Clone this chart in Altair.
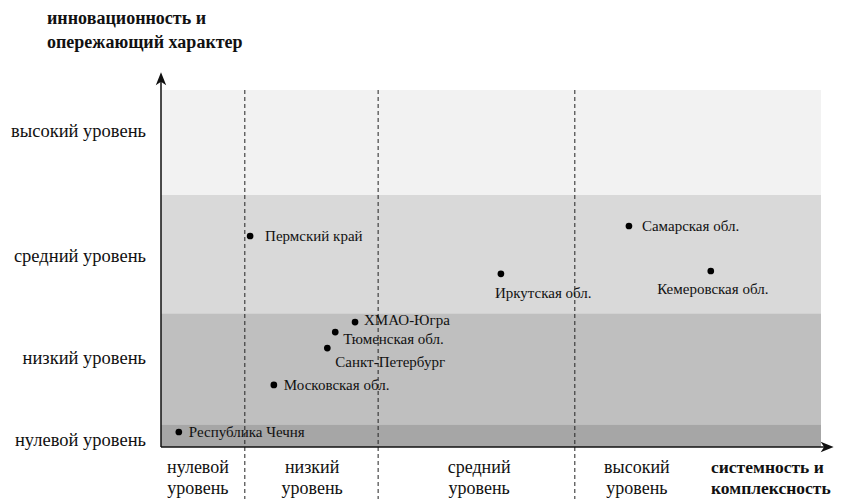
import altair as alt
import pandas as pd

# Regions and their (estimated) positions on the two qualitative axes (0-100 scale)
regions = ["Пермский край", "Самарская обл.", "Иркутская обл.", "Кемеровская обл.",
           "ХМАО-Югра", "Тюменская обл.", "Санкт-Петербург", "Московская обл.",
           "Республика Чечня"]
sys_x = [13.5, 70.9, 51.5, 83.3, 29.4, 26.4, 25.2, 17.1, 2.7]
innov_y = [59.1, 61.9, 48.5, 49.3, 35.0, 32.2, 27.7, 17.4, 4.2]

# Levels
y_levels = ["нулевой уровень", "низкий уровень", "средний уровень", "высокий уровень"]
y_bounds = [0, 6.4, 37.5, 70.6, 100]
y_label_pos = [2.0, 24.9, 53.5, 88.5]
band_colors = ["#a6a6a6", "#bfbfbf", "#d9d9d9", "#f2f2f2"]

x_levels = ["нулевой\nуровень", "низкий\nуровень", "средний\nуровень", "высокий\nуровень"]
x_bounds = [0, 12.7, 32.9, 62.7, 100]
x_label_pos = [5.6, 22.9, 48.2, 72.1]

y_title = "инновационность и\nопережающий характер"
x_title = "системность и\nкомплексность"

FONT = "'Liberation Serif', 'Times New Roman', 'DejaVu Serif', serif"
xs = alt.Scale(domain=[0, 100], nice=False, zero=False)
ys = alt.Scale(domain=[0, 100], nice=False, zero=False)

pts = pd.DataFrame({"region": regions, "x": sys_x, "y": innov_y})
bands = pd.DataFrame({"level": y_levels, "y0": y_bounds[:-1], "y1": y_bounds[1:],
                      "x0": [x_bounds[0]] * 4, "x1": [x_bounds[-1]] * 4})
dividers = pd.DataFrame({"x": x_bounds[1:-1]})
ylab = pd.DataFrame({"t": y_levels, "y": y_label_pos})
xlab = pd.DataFrame({"t": x_levels, "x": x_label_pos})

band_layer = alt.Chart(bands).mark_rect().encode(
    x=alt.X("x0:Q", scale=xs, axis=None), x2="x1:Q",
    y=alt.Y("y0:Q", scale=ys, axis=None), y2="y1:Q",
    color=alt.Color("level:N", scale=alt.Scale(domain=y_levels, range=band_colors), legend=None),
)

div_layer = alt.Chart(dividers).mark_rule(strokeDash=[4, 3], color="#222222", strokeWidth=1).encode(
    x=alt.X("x:Q", scale=xs, axis=None), y=alt.value(0), y2=alt.value(412)
)

one = pd.DataFrame({"k": [0]})
yaxis_line = alt.Chart(one).mark_rule(color="#111111", strokeWidth=1.5).encode(
    x=alt.value(0), y=alt.value(357), y2=alt.value(-12))
xaxis_line = alt.Chart(one).mark_rule(color="#111111", strokeWidth=1.5).encode(
    x=alt.value(0), x2=alt.value(666), y=alt.value(357))
arrow_shape = "M0,-1L0.6,0.5L0,0.1L-0.6,0.5Z"
yarrow = alt.Chart(one).mark_point(shape=arrow_shape, filled=True, color="#111111",
                                   size=300, opacity=1).encode(
    x=alt.value(0), y=alt.value(-9))
xarrow = alt.Chart(one).mark_point(shape=arrow_shape, filled=True, color="#111111",
                                   size=300, opacity=1, angle=90).encode(
    x=alt.value(664), y=alt.value(357))

dots = alt.Chart(pts).mark_circle(size=45, color="#000000", opacity=1).encode(
    x=alt.X("x:Q", scale=xs, axis=None), y=alt.Y("y:Q", scale=ys, axis=None))


def lbl(names, **kw):
    base = dict(font=FONT, fontSize=15, color="#111111", baseline="middle", align="left")
    base.update(kw)
    return alt.Chart(pts).transform_filter(
        alt.FieldOneOfPredicate(field="region", oneOf=names)
    ).mark_text(**base).encode(
        x=alt.X("x:Q", scale=xs, axis=None), y=alt.Y("y:Q", scale=ys, axis=None), text="region:N")


labels = [
    lbl(["Пермский край"], dx=15),
    lbl(["Самарская обл."], dx=13),
    lbl(["Московская обл.", "Республика Чечня"], dx=10),
    lbl(["ХМАО-Югра"], dx=9, dy=-2),
    lbl(["Тюменская обл."], dx=8, dy=7),
    lbl(["Санкт-Петербург"], dx=8, dy=14),
    lbl(["Иркутская обл."], dx=-6, dy=19),
    lbl(["Кемеровская обл."], align="center", dx=2, dy=18),
]

ylab_layer = alt.Chart(ylab).mark_text(font=FONT, fontSize=18.5, align="right", baseline="middle",
                                       color="#111111").encode(
    x=alt.value(-15), y=alt.Y("y:Q", scale=ys, axis=None), text="t:N")
xlab_layer = alt.Chart(xlab).mark_text(font=FONT, fontSize=18, align="center", baseline="alphabetic",
                                       lineBreak="\n", lineHeight=21, color="#111111").encode(
    x=alt.X("x:Q", scale=xs, axis=None), y=alt.value(383), text="t:N")

ytitle = alt.Chart(pd.DataFrame({"t": [y_title]})).mark_text(
    font=FONT, fontSize=18, fontWeight="bold", align="left", baseline="alphabetic",
    lineBreak="\n", lineHeight=24, color="#111111").encode(
    x=alt.value(-114), y=alt.value(-66), text="t:N")
xtitle = alt.Chart(pd.DataFrame({"t": [x_title]})).mark_text(
    font=FONT, fontSize=17.5, fontWeight="bold", align="left", baseline="alphabetic",
    lineBreak="\n", lineHeight=21, color="#111111").encode(
    x=alt.value(550), y=alt.value(383), text="t:N")

chart = alt.layer(
    band_layer, div_layer, yaxis_line, xaxis_line, yarrow, xarrow, dots, *labels,
    ylab_layer, xlab_layer, ytitle, xtitle
).properties(
    width=660, height=357,
    autosize=alt.AutoSizeParams(type="none"),
    padding={"left": 153, "top": 82, "right": 13, "bottom": 52},
).configure_view(stroke=None)

chart.save("out.html", embed_options={"renderer": "svg", "actions": False})
